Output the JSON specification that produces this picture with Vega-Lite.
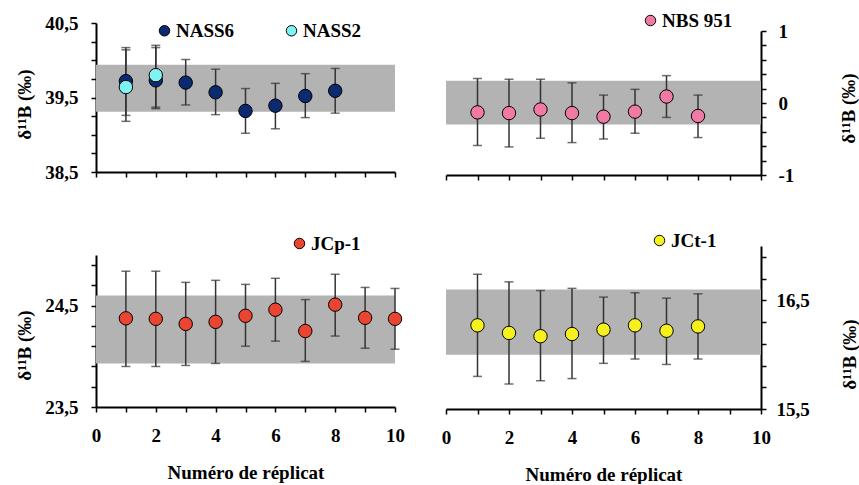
{
  "$schema": "https://vega.github.io/schema/vega-lite/v6.json",
  "padding": {"left": 15, "top": 11, "right": 0, "bottom": 0},
  "background": "white",
  "datasets": {
    "tl": [
      {"series": "NASS6", "x": 1, "y": 39.72, "lo": 39.26, "hi": 40.17},
      {"series": "NASS6", "x": 2, "y": 39.73, "lo": 39.35, "hi": 40.17},
      {"series": "NASS6", "x": 3, "y": 39.70, "lo": 39.40, "hi": 40.01},
      {"series": "NASS6", "x": 4, "y": 39.57, "lo": 39.27, "hi": 39.88},
      {"series": "NASS6", "x": 5, "y": 39.32, "lo": 39.02, "hi": 39.62},
      {"series": "NASS6", "x": 6, "y": 39.39, "lo": 39.08, "hi": 39.69},
      {"series": "NASS6", "x": 7, "y": 39.52, "lo": 39.23, "hi": 39.82},
      {"series": "NASS6", "x": 8, "y": 39.59, "lo": 39.29, "hi": 39.89},
      {"series": "NASS2", "x": 1, "y": 39.64, "lo": 39.18, "hi": 40.14},
      {"series": "NASS2", "x": 2, "y": 39.80, "lo": 39.37, "hi": 40.20}
    ],
    "bandTL": [{"x1": 0, "x2": 10, "y1": 39.31, "y2": 39.94}],
    "tr": [
      {"series": "NBS 951", "x": 1, "y": -0.13, "lo": -0.59, "hi": 0.34},
      {"series": "NBS 951", "x": 2, "y": -0.14, "lo": -0.61, "hi": 0.33},
      {"series": "NBS 951", "x": 3, "y": -0.09, "lo": -0.49, "hi": 0.33},
      {"series": "NBS 951", "x": 4, "y": -0.14, "lo": -0.55, "hi": 0.28},
      {"series": "NBS 951", "x": 5, "y": -0.19, "lo": -0.50, "hi": 0.11},
      {"series": "NBS 951", "x": 6, "y": -0.12, "lo": -0.42, "hi": 0.19},
      {"series": "NBS 951", "x": 7, "y": 0.09, "lo": -0.20, "hi": 0.38},
      {"series": "NBS 951", "x": 8, "y": -0.18, "lo": -0.48, "hi": 0.11}
    ],
    "bandTR": [{"x1": 0, "x2": 10, "y1": -0.30, "y2": 0.31}],
    "bl": [
      {"series": "JCp-1", "x": 1, "y": 24.375, "lo": 23.90, "hi": 24.84},
      {"series": "JCp-1", "x": 2, "y": 24.37, "lo": 23.90, "hi": 24.84},
      {"series": "JCp-1", "x": 3, "y": 24.32, "lo": 23.91, "hi": 24.73},
      {"series": "JCp-1", "x": 4, "y": 24.34, "lo": 23.93, "hi": 24.75},
      {"series": "JCp-1", "x": 5, "y": 24.40, "lo": 24.10, "hi": 24.71},
      {"series": "JCp-1", "x": 6, "y": 24.46, "lo": 24.15, "hi": 24.77},
      {"series": "JCp-1", "x": 7, "y": 24.25, "lo": 23.95, "hi": 24.56},
      {"series": "JCp-1", "x": 8, "y": 24.51, "lo": 24.20, "hi": 24.81},
      {"series": "JCp-1", "x": 9, "y": 24.38, "lo": 24.08, "hi": 24.68},
      {"series": "JCp-1", "x": 10, "y": 24.37, "lo": 24.07, "hi": 24.67}
    ],
    "bandBL": [{"x1": 0, "x2": 10, "y1": 23.93, "y2": 24.60}],
    "br": [
      {"series": "JCt-1", "x": 1, "y": 16.27, "lo": 15.80, "hi": 16.74},
      {"series": "JCt-1", "x": 2, "y": 16.20, "lo": 15.73, "hi": 16.67},
      {"series": "JCt-1", "x": 3, "y": 16.17, "lo": 15.76, "hi": 16.59},
      {"series": "JCt-1", "x": 4, "y": 16.19, "lo": 15.78, "hi": 16.61},
      {"series": "JCt-1", "x": 5, "y": 16.23, "lo": 15.92, "hi": 16.53},
      {"series": "JCt-1", "x": 6, "y": 16.27, "lo": 15.96, "hi": 16.57},
      {"series": "JCt-1", "x": 7, "y": 16.22, "lo": 15.91, "hi": 16.52},
      {"series": "JCt-1", "x": 8, "y": 16.26, "lo": 15.96, "hi": 16.56}
    ],
    "bandBR": [{"x1": 0, "x2": 10, "y1": 16.00, "y2": 16.60}]
  },
  "resolve": {"scale": {"color": "independent", "x": "independent", "y": "independent"}, "legend": {"color": "independent"}},
  "spacing": 36,
  "hconcat": [
    {
      "spacing": 52,
      "resolve": {"scale": {"color": "independent", "x": "independent", "y": "independent"}, "legend": {"color": "independent"}},
      "vconcat": [
        {
          "width": 299, "height": 149,
          "encoding": {
            "x": {"type": "quantitative", "scale": {"domain": [0, 10], "nice": false},
                  "axis": {"title": null, "values": [0,1,2,3,4,5,6,7,8,9,10], "labels": false}},
            "y": {"type": "quantitative", "title": "δ¹¹B (‰)", "scale": {"domain": [38.5, 40.5], "nice": false},
                  "axis": {"values": [38.5,38.75,39,39.25,39.5,39.75,40,40.25,40.5], "format": ".1f", "labelOverlap": false,
                           "labelExpr": "(datum.value*2) % 2 == 1 ? replace(datum.label, '.', ',') : ''",
                           "labelPadding": 13, "titleX": -72, "titleY": 81, "titleAngle": 270, "titleBaseline": "middle", "titleAlign": "center"}}
          },
          "layer": [
            {
              "data": {"name": "bandTL"},
              "mark": {"type": "rect", "color": "#b3b3b3"},
              "encoding": {"x": {"field": "x1"}, "x2": {"field": "x2"}, "y": {"field": "y1"}, "y2": {"field": "y2"}}
            },
            {
              "data": {"name": "tl"},
              "mark": {"type": "errorbar", "color": "#333333", "thickness": 1.5, "ticks": {"size": 9, "thickness": 1.5}},
              "encoding": {"x": {"field": "x"}, "y": {"field": "lo"}, "y2": {"field": "hi"}}
            },
            {
              "data": {"name": "tl"},
              "mark": {"type": "circle", "size": 180, "opacity": 1, "stroke": "black", "strokeWidth": 1},
              "encoding": {
                "x": {"field": "x"},
                "y": {"field": "y"},
                "color": {"field": "series", "type": "nominal",
                          "scale": {"domain": ["NASS6", "NASS2"], "range": ["#0b2a6f", "#7ff3f3"]},
                          "legend": {"title": null, "orient": "none", "legendX": 59, "legendY": -2, "direction": "horizontal", "columns": 2, "columnPadding": 47}}
              }
            }
          ]
        },
        {
          "width": 299, "height": 152,
          "encoding": {
            "x": {"type": "quantitative", "scale": {"domain": [0, 10], "nice": false},
                  "axis": {"title": "Numéro de réplicat", "values": [0,1,2,3,4,5,6,7,8,9,10], "labelOverlap": false,
                           "labelExpr": "datum.value % 2 == 0 ? datum.label : ''", "labelPadding": 14,
                           "titleY": 65, "titleBaseline": "middle"}},
            "y": {"type": "quantitative", "title": "δ¹¹B (‰)", "scale": {"domain": [23.5, 25], "nice": false},
                  "axis": {"values": [23.5,23.7,23.9,24.1,24.3,24.5,24.7,24.9], "format": ".1f", "labelOverlap": false,
                           "labelExpr": "(datum.value*2) % 2 == 1 ? replace(datum.label, '.', ',') : ''",
                           "labelPadding": 13, "titleX": -72, "titleY": 90, "titleAngle": 270, "titleBaseline": "middle", "titleAlign": "center"}}
          },
          "layer": [
            {
              "data": {"name": "bandBL"},
              "mark": {"type": "rect", "color": "#b3b3b3"},
              "encoding": {"x": {"field": "x1"}, "x2": {"field": "x2"}, "y": {"field": "y1"}, "y2": {"field": "y2"}}
            },
            {
              "data": {"name": "bl"},
              "mark": {"type": "errorbar", "color": "#333333", "thickness": 1.5, "ticks": {"size": 9, "thickness": 1.5}},
              "encoding": {"x": {"field": "x"}, "y": {"field": "lo"}, "y2": {"field": "hi"}}
            },
            {
              "data": {"name": "bl"},
              "mark": {"type": "circle", "size": 180, "opacity": 1, "stroke": "black", "strokeWidth": 1},
              "encoding": {
                "x": {"field": "x"},
                "y": {"field": "y"},
                "color": {"field": "series", "type": "nominal",
                          "scale": {"domain": ["JCp-1"], "range": ["#ea4530"]},
                          "legend": {"title": null, "orient": "none", "legendX": 194, "legendY": -21}}
              }
            }
          ]
        }
      ]
    },
    {
      "spacing": 46,
      "resolve": {"scale": {"color": "independent", "x": "independent", "y": "independent"}, "legend": {"color": "independent"}},
      "vconcat": [
        {
          "spacing": -20,
          "resolve": {"scale": {"color": "independent", "x": "independent", "y": "independent"}, "legend": {"color": "independent"}},
          "vconcat": [
            {
              "width": 315, "height": 1,
              "data": {"name": "tr"},
              "mark": {"type": "circle", "opacity": 0, "size": 1},
              "encoding": {
                "color": {"field": "series", "type": "nominal",
                          "scale": {"domain": ["NBS 951"], "range": ["#f07aa5"]},
                          "legend": {"title": null, "orient": "none", "legendX": 195, "legendY": -12}}
              }
            },
            {
              "width": 315, "height": 144,
              "encoding": {
                "x": {"type": "quantitative", "scale": {"domain": [0, 10], "nice": false},
                      "axis": {"title": null, "values": [0,1,2,3,4,5,6,7,8,9,10], "labels": false}},
                "y": {"type": "quantitative", "title": "δ¹¹B (‰)", "scale": {"domain": [-1, 1], "nice": false},
                      "axis": {"orient": "right", "values": [-1,-0.8,-0.6,-0.4,-0.2,0,0.2,0.4,0.6,0.8,1], "labelOverlap": false,
                               "labelExpr": "abs(datum.value - round(datum.value)) < 0.01 ? toString(round(datum.value)) : ''",
                               "labelPadding": 12, "titleX": 87, "titleY": 77, "titleAngle": 270, "titleBaseline": "middle", "titleAlign": "center"}}
              },
              "layer": [
                {
                  "data": {"name": "bandTR"},
                  "mark": {"type": "rect", "color": "#b3b3b3"},
                  "encoding": {"x": {"field": "x1"}, "x2": {"field": "x2"}, "y": {"field": "y1"}, "y2": {"field": "y2"}}
                },
                {
                  "data": {"name": "tr"},
                  "mark": {"type": "errorbar", "color": "#333333", "thickness": 1.5, "ticks": {"size": 9, "thickness": 1.5}},
                  "encoding": {"x": {"field": "x"}, "y": {"field": "lo"}, "y2": {"field": "hi"}}
                },
                {
                  "data": {"name": "tr"},
                  "mark": {"type": "circle", "size": 180, "opacity": 1, "stroke": "black", "strokeWidth": 1},
                  "encoding": {
                    "x": {"field": "x"},
                    "y": {"field": "y"},
                    "color": {"field": "series", "type": "nominal",
                              "scale": {"domain": ["NBS 951"], "range": ["#f07aa5"]}, "legend": null}
                  }
                }
              ]
            }
          ]
        },
        {
          "width": 315, "height": 163,
          "encoding": {
            "x": {"type": "quantitative", "scale": {"domain": [0, 10], "nice": false},
                  "axis": {"title": "Numéro de réplicat", "values": [0,1,2,3,4,5,6,7,8,9,10], "labelOverlap": false,
                           "labelExpr": "datum.value % 2 == 0 ? datum.label : ''", "labelPadding": 14,
                           "titleY": 65, "titleBaseline": "middle"}},
            "y": {"type": "quantitative", "title": "δ¹¹B (‰)", "scale": {"domain": [15.5, 17], "nice": false},
                  "axis": {"orient": "right", "values": [15.5,15.7,15.9,16.1,16.3,16.5,16.7,16.9], "format": ".1f", "labelOverlap": false,
                           "labelExpr": "(datum.value*2) % 2 == 1 ? replace(datum.label, '.', ',') : ''",
                           "labelPadding": 10, "titleX": 88, "titleY": 108, "titleAngle": 270, "titleBaseline": "middle", "titleAlign": "center"}}
          },
          "layer": [
            {
              "data": {"name": "bandBR"},
              "mark": {"type": "rect", "color": "#b3b3b3"},
              "encoding": {"x": {"field": "x1"}, "x2": {"field": "x2"}, "y": {"field": "y1"}, "y2": {"field": "y2"}}
            },
            {
              "data": {"name": "br"},
              "mark": {"type": "errorbar", "color": "#333333", "thickness": 1.5, "ticks": {"size": 9, "thickness": 1.5}},
              "encoding": {"x": {"field": "x"}, "y": {"field": "lo"}, "y2": {"field": "hi"}}
            },
            {
              "data": {"name": "br"},
              "mark": {"type": "circle", "size": 180, "opacity": 1, "stroke": "black", "strokeWidth": 1},
              "encoding": {
                "x": {"field": "x"},
                "y": {"field": "y"},
                "color": {"field": "series", "type": "nominal",
                          "scale": {"domain": ["JCt-1"], "range": ["#f5f01e"]},
                          "legend": {"title": null, "orient": "none", "legendX": 204, "legendY": -15}}
              }
            }
          ]
        }
      ]
    }
  ],
  "config": {
    "view": {"stroke": null},
    "font": "Liberation Serif",
    "axis": {
      "grid": false,
      "domainColor": "black", "domainWidth": 2,
      "tickColor": "black", "tickWidth": 1.5, "tickSize": 5,
      "labelFont": "Liberation Serif", "labelFontWeight": "bold", "labelFontSize": 19, "labelColor": "black",
      "labelFlush": false,
      "titleFont": "Liberation Serif", "titleFontWeight": "bold", "titleFontSize": 19, "titleColor": "black"
    },
    "legend": {
      "padding": 0, "symbolType": "circle", "symbolSize": 110, "symbolStrokeColor": "black", "symbolStrokeWidth": 1,
      "symbolOpacity": 1,
      "labelFont": "Liberation Serif", "labelFontWeight": "bold", "labelFontSize": 19, "labelColor": "black", "labelOffset": 2
    }
  }
}
